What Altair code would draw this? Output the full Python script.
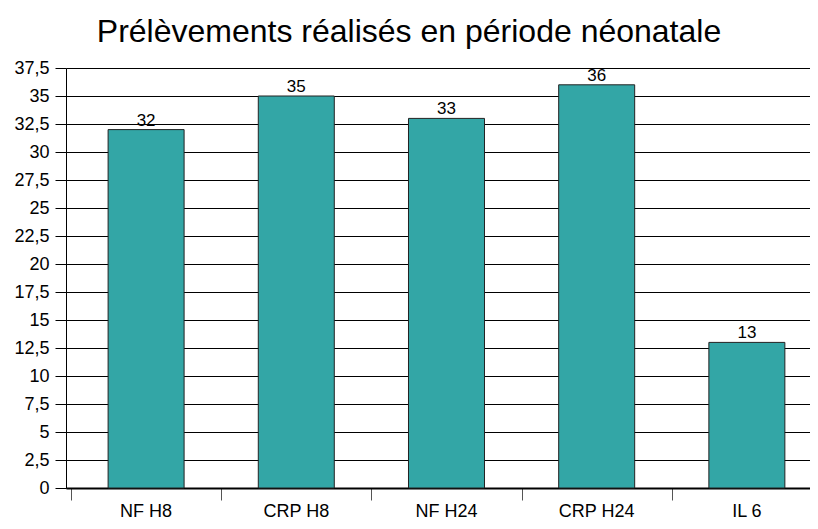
import altair as alt
import pandas as pd

categories = ["NF H8", "CRP H8", "NF H24", "CRP H24", "IL 6"]
values = [32, 35, 33, 36, 13]
y_ticks = [0, 2.5, 5, 7.5, 10, 12.5, 15, 17.5, 20, 22.5, 25, 27.5, 30, 32.5, 35, 37.5]
boundaries = [0, 1, 2, 3, 4]

df = pd.DataFrame({"cat": categories, "value": values, "idx": list(range(len(categories)))})

FONT = "Liberation Sans"

base = alt.Chart(df).transform_calculate(pos="datum.idx + 0.5")

x_enc = alt.X(
    "pos:Q",
    scale=alt.Scale(domain=[0, 4.887], nice=False, zero=False),
    axis=alt.Axis(values=boundaries, labels=False, tickSize=12, tickColor="#555555",
                  domainColor="black", domainWidth=2, grid=False, title=None),
)
y_enc = alt.Y(
    "value:Q",
    scale=alt.Scale(domain=[0, 37.5], nice=False),
    axis=alt.Axis(values=y_ticks, labelExpr="replace(toString(datum.value), '.', ',')",
                  labelOverlap=False, labelFlush=False, labelBound=False,
                  tickSize=11, tickColor="black", grid=True, gridColor="black",
                  gridWidth=1, domainColor="black", labelFontSize=18, labelFont=FONT,
                  labelPadding=6, labelColor="black", title=None),
)

bars = base.mark_bar(size=76, color="#33A6A6", stroke="#222222", strokeWidth=1).encode(
    x=x_enc, y=y_enc
)

vals = base.mark_text(baseline="bottom", dy=0, fontSize=17, font=FONT, color="black").encode(
    x=x_enc, y=y_enc, text="value:Q"
)

cats = base.mark_text(baseline="bottom", fontSize=18, font=FONT, color="black").encode(
    x=x_enc, y=alt.value(453), text="cat:N"
)

chart = (
    alt.layer(bars, vals, cats)
    .properties(
        width=744,
        height=420,
        autosize=alt.AutoSizeParams(type="none"),
        padding={"left": 58, "top": 60, "right": 0, "bottom": 33},
        title=alt.TitleParams(
            "Prélèvements réalisés en période néonatale",
            fontSize=32, font=FONT, fontWeight="normal", anchor="middle",
            dx=-29, offset=10, color="black",
        ),
    )
    .configure_view(stroke=None)
    .configure_axis(labelFont=FONT, labelFontSize=18, labelOverlap=False)
)

chart.save("out.html", embed_options={"renderer": "svg", "actions": False})
